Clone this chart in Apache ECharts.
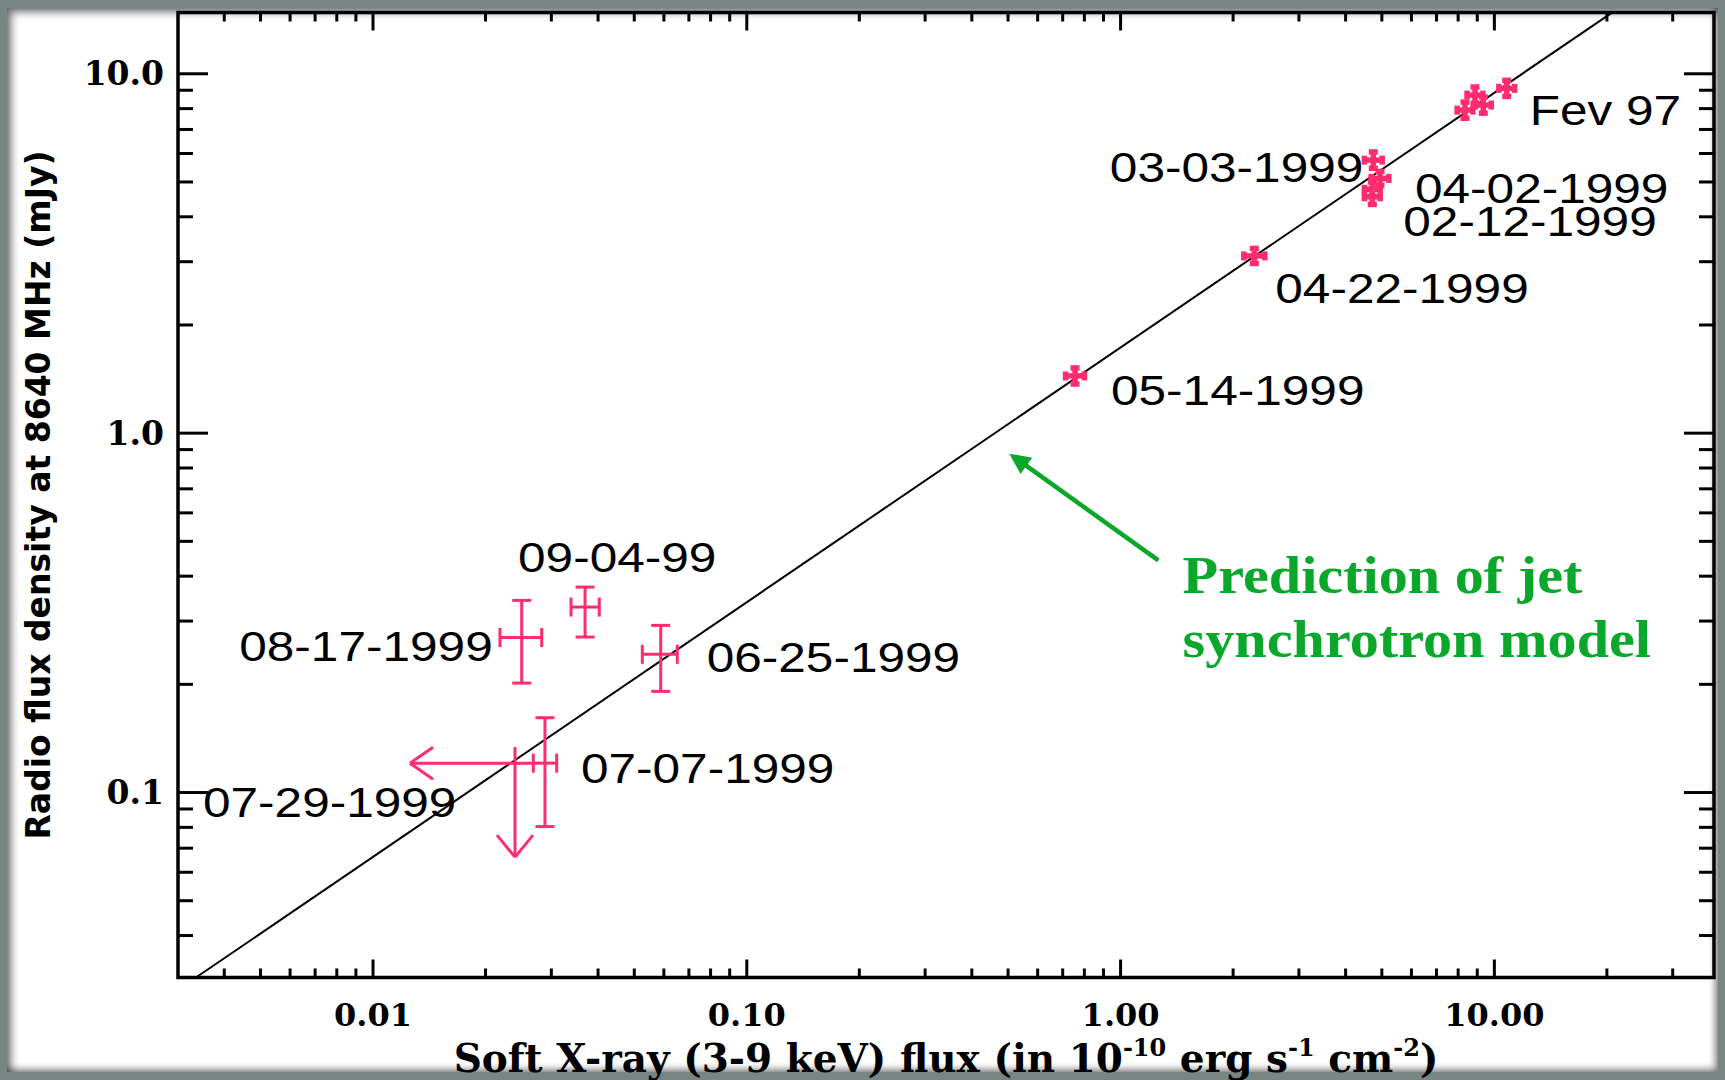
<!DOCTYPE html>
<html>
<head>
<meta charset="utf-8">
<script src="https://cdn.jsdelivr.net/npm/echarts@6/dist/echarts.min.js"></script>
<style>
html,body{margin:0;padding:0;width:1725px;height:1080px;overflow:hidden;background:#788683;}
#panel{position:absolute;left:7px;top:8px;width:1711px;height:1064px;background:#fff;
  box-shadow: inset 4px 4px 9px rgba(0,0,0,0.55), inset -3px -3px 7px rgba(0,0,0,0.45);}
#chart{position:absolute;left:0;top:0;width:1725px;height:1080px;}
</style>
</head>
<body>
<div id="panel"></div>
<div id="chart"></div>
<script>
// ---------- axis ranges & ticks ----------
const X_MIN = 0.003008, X_MAX = 38.69;
const Y_MIN = 0.03057, Y_MAX = 14.81;
const xMajorTicks = [0.01, 0.1, 1, 10];
const xMinorTicks = [0.004,0.005,0.006,0.007,0.008,0.009,
                     0.02,0.03,0.04,0.05,0.06,0.07,0.08,0.09,
                     0.2,0.3,0.4,0.5,0.6,0.7,0.8,0.9,
                     2,3,4,5,6,7,8,9,20,30];
const yMajorTicks = [0.1, 1, 10];
const yMinorTicks = [0.04,0.05,0.06,0.07,0.08,0.09,
                     0.2,0.3,0.4,0.5,0.6,0.7,0.8,0.9,
                     2,3,4,5,6,7,8,9];

// ---------- well measured points (small error bars) ----------
const brightNames = ['Fev 97 (1)','Fev 97 (2)','Fev 97','Fev 97 (3)',
                     '03-03-1999','04-02-1999','02-12-1999','02-12-1999 (2)',
                     '04-22-1999','05-14-1999'];
const brightX   = [8.874, 9.340, 10.79, 8.345, 4.744, 4.943, 4.714, 4.714, 2.279, 0.7552];
const brightXLo = [8.45,  8.89,  10.28, 7.95,  4.49,  4.68,  4.49,  4.49,  2.136, 0.7125];
const brightXHi = [9.32,  9.81,  11.33, 8.76,  5.01,  5.22,  4.95,  4.95,  2.432, 0.8005];
const brightY   = [8.724, 8.183, 9.108, 7.924, 5.751, 5.115, 4.768, 4.547, 3.113, 1.443];
const brightYLo = [8.28,  7.77,  8.65,  7.52,  5.46,  4.89,  4.56,  4.33,  2.967, 1.370];
const brightYHi = [9.19,  8.62,  9.59,  8.34,  6.06,  5.35,  5.00,  4.77,  3.266, 1.519];

// ---------- faint points (large error bars) ----------
const faintNames = ['08-17-1999','09-04-99','06-25-1999','07-07-1999'];
const faintX   = [0.02499, 0.03692, 0.05884, 0.02884];
const faintXLo = [0.02186, 0.03386, 0.05254, 0.02684];
const faintXHi = [0.02827, 0.04030, 0.06517, 0.03100];
const faintY   = [0.2700, 0.3282, 0.2424, 0.1207];
const faintYLo = [0.2016, 0.2708, 0.1912, 0.0804];
const faintYHi = [0.3425, 0.3729, 0.2918, 0.1615];

// ---------- upper limit ----------
const limitNames = ['07-29-1999'];
const limitX = [0.02398];
const limitY = [0.1207];
const limitXArrowTo = [0.01256];
const limitYArrowTo = [0.0661];
const limitXStub = [0.0268];
const limitYStub = [0.1338];

// ---------- jet synchrotron model (straight line in log-log) ----------
const modelX = [0.00336, 20.6];
const modelY = [0.03057, 14.78];

// ---------- annotation ----------
const annotationLines = ['Prediction of jet', 'synchrotron model'];
const annotationTextAt = [1.465, 0.4009];
const annotationArrowTip = [0.5038, 0.877];
const annotationArrowTail = [1.262, 0.4427];

// ---------- labels ----------
const labelTexts = ['Fev 97','03-03-1999','04-02-1999','02-12-1999','04-22-1999','05-14-1999',
                    '09-04-99','08-17-1999','06-25-1999','07-07-1999','07-29-1999'];

// pixel offsets of each label from its point (layout, not data)
const labelLayout = {
  'Fev 97':      [23, 22, 'left'],
  '03-03-1999':  [-10, 7, 'right'],
  '04-02-1999':  [35, 10, 'left'],
  '02-12-1999':  [31, 32, 'left'],
  '04-22-1999':  [21, 32, 'left'],
  '05-14-1999':  [36, 14, 'left'],
  '09-04-99':    [-67, -50, 'left'],
  '08-17-1999':  [-29, 9, 'right'],
  '06-25-1999':  [46, 3, 'left'],
  '07-07-1999':  [36, 5, 'left'],
  '07-29-1999':  [-312, 39, 'left']
};

const PINK = '#ff2d6f';
const GREEN = '#0aa82a';
const TEXT_STRETCH = 1.18;

function anchorOf(name) {
  let i = brightNames.indexOf(name);
  if (i >= 0) return [brightX[i], brightY[i]];
  i = faintNames.indexOf(name);
  if (i >= 0) return [faintX[i], faintY[i]];
  i = limitNames.indexOf(name);
  if (i >= 0) return [limitX[i], limitY[i]];
  return [1, 1];
}

function seg(x1, y1, x2, y2, color, lw) {
  return {type: 'line', shape: {x1: x1, y1: y1, x2: x2, y2: y2},
          style: {stroke: color, lineWidth: lw, lineCap: 'butt'}};
}

function errorBarRenderer(capLen, lw) {
  return function (params, api) {
    const x = api.value(0), y = api.value(1);
    const l = api.coord([api.value(2), y]);
    const r = api.coord([api.value(3), y]);
    const b = api.coord([x, api.value(4)]);
    const t = api.coord([x, api.value(5)]);
    const h = capLen / 2;
    return {type: 'group', children: [
      seg(l[0], l[1], r[0], r[1], PINK, lw),
      seg(t[0], t[1], b[0], b[1], PINK, lw),
      seg(l[0], l[1] - h, l[0], l[1] + h, PINK, lw),
      seg(r[0], r[1] - h, r[0], r[1] + h, PINK, lw),
      seg(t[0] - h, t[1], t[0] + h, t[1], PINK, lw),
      seg(b[0] - h, b[1], b[0] + h, b[1], PINK, lw)
    ]};
  };
}

function tickRenderer(isX, majorLen, minorLen, isMajorList) {
  return function (params, api) {
    const cs = params.coordSys;
    const major = isMajorList[params.dataIndex];
    const len = major ? majorLen : minorLen;
    const lw = 3;
    if (isX) {
      const px = api.coord([api.value(0), Y_MIN])[0];
      const bottom = cs.y + cs.height, top = cs.y;
      return {type: 'group', children: [
        seg(px, bottom, px, bottom - len, '#000', lw),
        seg(px, top, px, top + len, '#000', lw)
      ]};
    } else {
      const py = api.coord([X_MIN, api.value(1)])[1];
      const left = cs.x, right = cs.x + cs.width;
      return {type: 'group', children: [
        seg(left, py, left + len, py, '#000', lw),
        seg(right, py, right - len, py, '#000', lw)
      ]};
    }
  };
}

const xTickVals = xMajorTicks.concat(xMinorTicks);
const xTickMajor = xTickVals.map(v => xMajorTicks.indexOf(v) >= 0);
const yTickVals = yMajorTicks.concat(yMinorTicks);
const yTickMajor = yTickVals.map(v => yMajorTicks.indexOf(v) >= 0);

function isDecade(v) {
  const l = Math.log10(v);
  return Math.abs(l - Math.round(l)) < 1e-6;
}

const chart = echarts.init(document.getElementById('chart'), null, {renderer: 'svg'});

const option = {
  animation: false,
  backgroundColor: 'transparent',
  grid: {
    left: 178, right: 11, top: 12.5, bottom: 102.5,
    show: true, borderColor: '#000', borderWidth: 3.5, backgroundColor: 'transparent',
    containLabel: false, outerBoundsMode: 'none'
  },
  xAxis: {
    type: 'log', logBase: 10, min: X_MIN, max: X_MAX,
    axisLine: {show: false}, axisTick: {show: false},
    splitLine: {show: false}, minorTick: {show: false}, minorSplitLine: {show: false},
    axisLabel: {
      show: true, margin: 21, color: '#000',
      fontFamily: 'DejaVu Serif', fontWeight: 'bold', fontSize: 32,
      showMinLabel: false, showMaxLabel: false,
      formatter: v => isDecade(v) ? v.toFixed(2) : ''
    },
    name: '{t|Soft X-ray (3-9 keV) flux (in 10}{s|-10}{t| erg s}{s|-1}{t| cm}{s|-2}{t|)}',
    nameLocation: 'middle', nameGap: 50,
    nameTextStyle: {
      color: '#000', fontFamily: 'DejaVu Serif', fontWeight: 'bold', fontSize: 39,
      rich: {
        t: {fontFamily: 'DejaVu Serif', fontWeight: 'bold', fontSize: 39, color: '#000', verticalAlign: 'bottom', lineHeight: 42},
        s: {fontFamily: 'DejaVu Serif', fontWeight: 'bold', fontSize: 24, color: '#000', verticalAlign: 'top', lineHeight: 42}
      }
    }
  },
  yAxis: {
    type: 'log', logBase: 10, min: Y_MIN, max: Y_MAX,
    axisLine: {show: false}, axisTick: {show: false},
    splitLine: {show: false}, minorTick: {show: false}, minorSplitLine: {show: false},
    axisLabel: {
      show: true, margin: 14, color: '#000',
      fontFamily: 'DejaVu Serif', fontWeight: 'bold', fontSize: 33,
      showMinLabel: false, showMaxLabel: false,
      formatter: v => isDecade(v) ? v.toFixed(1) : ''
    },
    name: 'Radio flux density at 8640 MHz (mJy)',
    nameLocation: 'middle', nameGap: 123, nameRotate: 90,
    nameTextStyle: {color: '#000', fontFamily: 'DejaVu Sans', fontWeight: 'bold', fontSize: 33}
  },
  series: [
    {
      name: 'x ticks', type: 'custom', silent: true, z: 5,
      renderItem: tickRenderer(true, 18, 9, xTickMajor),
      encode: {x: 0, y: 1},
      data: xTickVals.map(v => [v, Y_MIN])
    },
    {
      name: 'y ticks', type: 'custom', silent: true, z: 5,
      renderItem: tickRenderer(false, 30, 15, yTickMajor),
      encode: {x: 0, y: 1},
      data: yTickVals.map(v => [X_MIN, v])
    },
    {
      name: 'Jet synchrotron model', type: 'line', silent: true, z: 3,
      showSymbol: false, symbol: 'none', clip: true,
      lineStyle: {color: '#000', width: 2},
      data: modelX.map((x, i) => [x, modelY[i]])
    },
    {
      name: 'Bright points', type: 'custom', silent: true, z: 4,
      renderItem: errorBarRenderer(9, 5.5),
      encode: {x: 0, y: 1},
      data: brightX.map((x, i) => [x, brightY[i], brightXLo[i], brightXHi[i], brightYLo[i], brightYHi[i]])
    },
    {
      name: 'Faint points', type: 'custom', silent: true, z: 4,
      renderItem: errorBarRenderer(19, 3),
      encode: {x: 0, y: 1},
      data: faintX.map((x, i) => [x, faintY[i], faintXLo[i], faintXHi[i], faintYLo[i], faintYHi[i]])
    },
    {
      name: 'Upper limit', type: 'custom', silent: true, z: 4,
      renderItem: function (params, api) {
        const x = api.value(0), y = api.value(1);
        const ax = api.coord([api.value(2), y]);
        const ay = api.coord([x, api.value(3)]);
        const sx = api.coord([api.value(4), y]);
        const sy = api.coord([x, api.value(5)]);
        const lw = 3;
        return {type: 'group', children: [
          seg(ax[0], ax[1], sx[0], sx[1], PINK, lw),
          seg(sy[0], sy[1], ay[0], ay[1], PINK, lw),
          seg(ax[0], ax[1], ax[0] + 23, ax[1] - 16, PINK, lw),
          seg(ax[0], ax[1], ax[0] + 23, ax[1] + 16, PINK, lw),
          seg(ay[0], ay[1], ay[0] - 18, ay[1] - 22, PINK, lw),
          seg(ay[0], ay[1], ay[0] + 18, ay[1] - 22, PINK, lw)
        ]};
      },
      encode: {x: 0, y: 1},
      data: limitX.map((x, i) => [x, limitY[i], limitXArrowTo[i], limitYArrowTo[i], limitXStub[i], limitYStub[i]])
    },
    {
      name: 'Date labels', type: 'custom', silent: true, z: 6,
      renderItem: function (params, api) {
        const c = api.coord([api.value(0), api.value(1)]);
        const t = labelTexts[params.dataIndex];
        const lay = labelLayout[t];
        return {
          type: 'text', x: c[0] + lay[0], y: c[1] + lay[1], scaleX: TEXT_STRETCH,
          style: {text: t, fontSize: 42, fontFamily: 'Liberation Sans', fill: '#000',
                  align: lay[2], verticalAlign: 'middle'}
        };
      },
      encode: {x: 0, y: 1},
      data: labelTexts.map(t => anchorOf(t))
    },
    {
      name: 'Model arrow', type: 'custom', silent: true, z: 6,
      renderItem: function (params, api) {
        const tip = api.coord([api.value(0), api.value(1)]);
        const tail = api.coord([api.value(2), api.value(3)]);
        const dx = tip[0] - tail[0], dy = tip[1] - tail[1];
        const L = Math.sqrt(dx * dx + dy * dy);
        const ux = dx / L, uy = dy / L;
        const hl = 21, hw = 10;
        const bx = tip[0] - ux * hl, by = tip[1] - uy * hl;
        return {type: 'group', children: [
          seg(tail[0], tail[1], bx + ux * 2, by + uy * 2, GREEN, 4.5),
          {type: 'polygon', shape: {points: [
            [tip[0], tip[1]],
            [bx - uy * hw, by + ux * hw],
            [bx + uy * hw, by - ux * hw]
          ]}, style: {fill: GREEN}}
        ]};
      },
      encode: {x: 0, y: 1},
      data: [[annotationArrowTip[0], annotationArrowTip[1], annotationArrowTail[0], annotationArrowTail[1]]]
    },
    {
      name: 'Model annotation', type: 'custom', silent: true, z: 6,
      renderItem: function (params, api) {
        const c = api.coord([api.value(0), api.value(1)]);
        return {type: 'group', children: annotationLines.map((t, i) => ({
          type: 'text', x: c[0], y: c[1] + i * 64, scaleX: 1.12,
          style: {text: t, fontSize: 52, fontFamily: 'Liberation Serif', fontWeight: 'bold',
                  fill: GREEN, align: 'left', verticalAlign: 'middle'}
        }))};
      },
      encode: {x: 0, y: 1},
      data: [annotationTextAt]
    }
  ]
};
chart.setOption(option);
</script>
</body>
</html>
